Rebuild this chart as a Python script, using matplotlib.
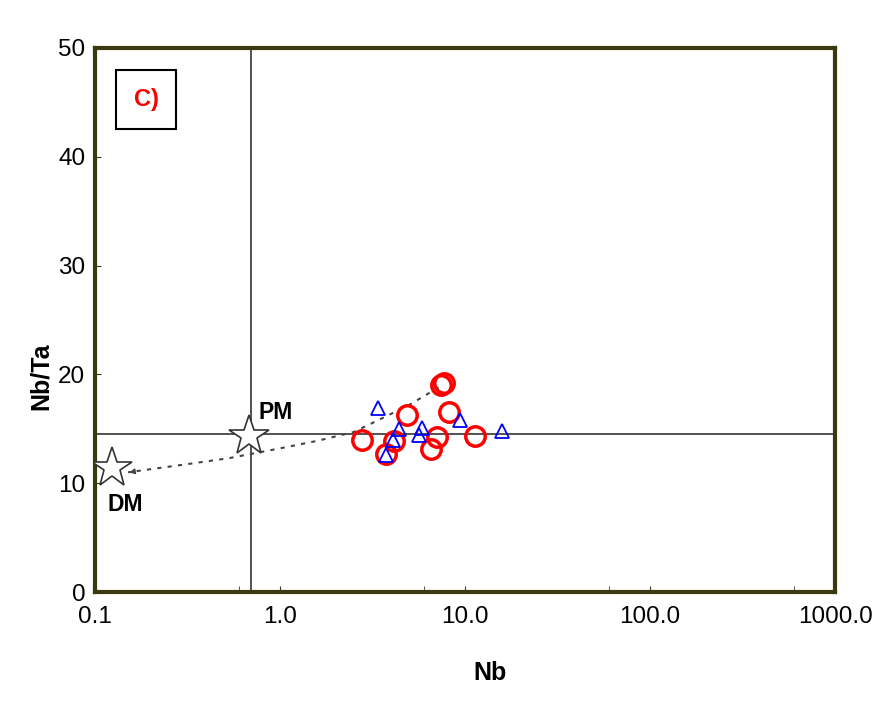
import numpy as np
import matplotlib.pyplot as plt
from matplotlib.ticker import FixedLocator, FixedFormatter

plt.rcParams['font.family'] = ['Liberation Sans', 'DejaVu Sans']

# red circles
circ_nb = [2.77, 3.74, 4.13, 4.86, 6.55, 7.06, 7.42, 7.70, 8.20, 11.3]
circ_nbta = [13.97, 12.68, 13.88, 16.27, 13.14, 14.25, 19.03, 19.21, 16.54, 14.34]
# blue triangles
tri_nb = [3.39, 4.40, 4.08, 3.74, 5.86, 5.64, 9.40, 15.85]
tri_nbta = [16.91, 14.98, 13.97, 12.59, 15.07, 14.43, 15.81, 14.80]
# reservoirs
pm = (0.68, 14.3)
dm = (0.123, 11.4)
# dotted trend
trend_nb = [7.2, 5.0, 3.5, 2.5, 1.6, 1.0, 0.53, 0.3, 0.151]
trend_nbta = [18.8, 17.2, 15.9, 14.7, 13.9, 13.2, 12.3, 11.7, 11.0]

xticks = [0.1, 1.0, 10.0, 100.0, 1000.0]
xticklabels = ['0.1', '1.0', '10.0', '100.0', '1000.0']
yticks = [0, 10, 20, 30, 40, 50]

fig = plt.figure(figsize=(8.81, 7.15), dpi=100)
ax = fig.add_axes([0.1078, 0.172, 0.84, 0.761])
ax.set_xscale('log')
ax.set_xlim(0.1, 1000)
ax.set_ylim(0, 50)

ax.axvline(0.7, color='#333333', lw=1.2, zorder=1)
ax.axhline(14.5, color='#333333', lw=1.2, zorder=1)

ax.plot(trend_nb, trend_nbta, ls=(0, (2, 3)), color='#444444', lw=1.5, zorder=2)
ax.annotate('', xy=(0.148, 10.95), xytext=(0.16, 11.05),
            arrowprops=dict(arrowstyle='-|>', color='#444444', lw=1, mutation_scale=8))

ax.plot(*pm, marker='*', ms=30, mfc='white', mec='#333333', mew=1.2, ls='none', zorder=3)
ax.plot(*dm, marker='*', ms=30, mfc='white', mec='#333333', mew=1.2, ls='none', zorder=3)
ax.text(0.77, 16.5, 'PM', fontsize=16.5, fontweight='bold', va='center')
ax.text(0.117, 8.0, 'DM', fontsize=16.5, fontweight='bold', va='center')

ax.plot(circ_nb, circ_nbta, 'o', ms=14, mfc='none', mec='red', mew=2.5, ls='none', zorder=4)
ax.plot(tri_nb, tri_nbta, '^', ms=10, mfc='none', mec='blue', mew=1.3, ls='none', zorder=5)

ax.text(0.069, 0.905, 'C)', transform=ax.transAxes, color='red', fontsize=17,
        fontweight='bold', ha='center', va='center',
        bbox=dict(boxstyle='square,pad=0.75', fc='white', ec='black', lw=1.5))

ax.xaxis.set_major_locator(FixedLocator(xticks))
ax.xaxis.set_major_formatter(FixedFormatter(xticklabels))
ax.xaxis.set_minor_locator(FixedLocator([0.6, 6, 60, 600]))
ax.xaxis.set_minor_formatter(FixedFormatter([]))
ax.set_yticks(yticks)
ax.tick_params(direction='in', length=4, labelsize=17.5, color='#3a3a10')
ax.tick_params(axis='x', pad=10)
ax.tick_params(axis='y', pad=7)
ax.tick_params(which='minor', direction='in', length=4, color='#3a3a10')
for s in ax.spines.values():
    s.set_color('#3a3a10')
    s.set_linewidth(3)

ax.set_xlabel('Nb', fontsize=18, fontweight='bold', labelpad=24, x=0.534)
ax.set_ylabel('Nb/Ta', fontsize=18, fontweight='bold', labelpad=4, y=0.397)

fig.savefig('out.png', dpi=100)
